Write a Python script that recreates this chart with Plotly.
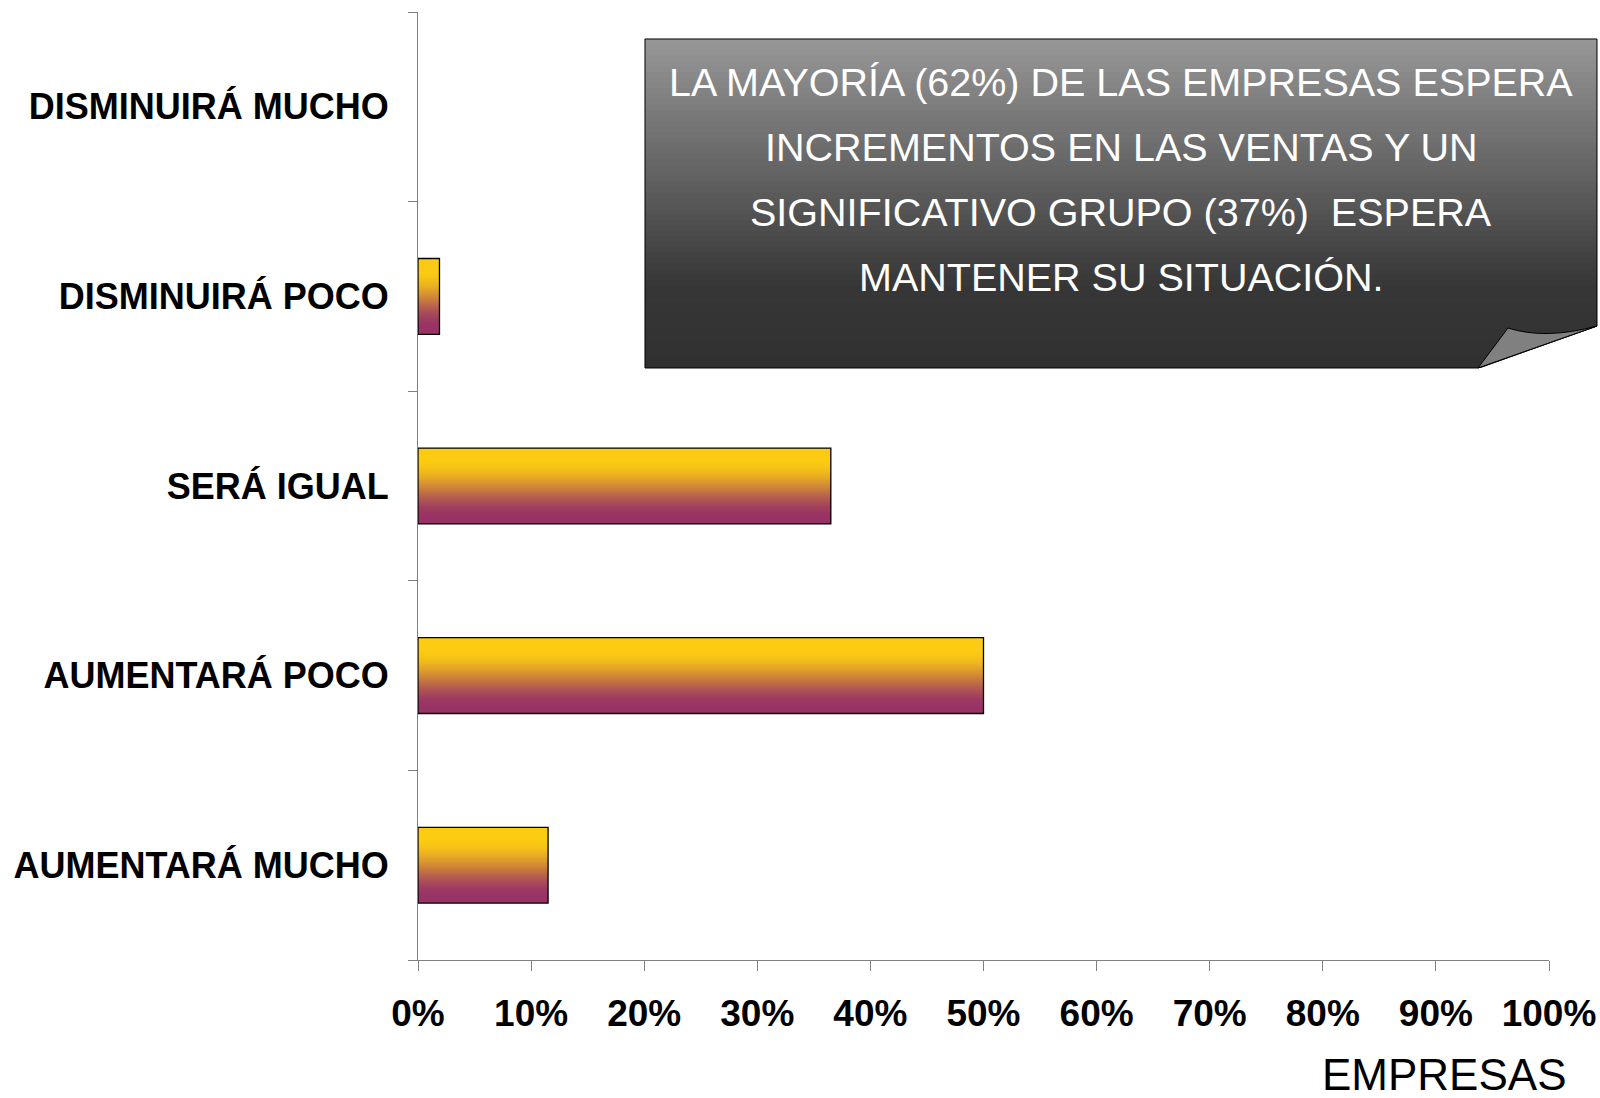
import plotly.graph_objects as go

# ---------------- data ----------------
categories = ["AUMENTARÁ MUCHO", "AUMENTARÁ POCO", "SERÁ IGUAL", "DISMINUIRÁ POCO", "DISMINUIRÁ MUCHO"]
values = [11.5, 50.0, 36.5, 1.9, 0.0]
x_tick_values = [0, 10, 20, 30, 40, 50, 60, 70, 80, 90, 100]
x_tick_labels = ["0%", "10%", "20%", "30%", "40%", "50%", "60%", "70%", "80%", "90%", "100%"]
x_title = "EMPRESAS"
note_lines = [
    "LA MAYORÍA (62%) DE LAS EMPRESAS ESPERA",
    "INCREMENTOS EN LAS VENTAS Y UN",
    "SIGNIFICATIVO GRUPO (37%)\u00a0\u00a0ESPERA",
    "MANTENER SU SITUACIÓN.",
]

# ---------------- layout geometry (pixels of the target picture) ----------------
W, H = 1600, 1098
L, R, T, B = 418, 1549, 12, 960
FONT = "Liberation Sans, Arial, sans-serif"


def px(x):
    return (x - L) / (R - L)


def py(y):
    return (B - y) / (B - T)


def lerp(a, b, t):
    return tuple(a[i] + (b[i] - a[i]) * t for i in range(3))


YELLOW = (252, 203, 18)
PURPLE = (153, 51, 102)


def bar_color(t_top):
    # t_top: 0 at top of bar, 1 at bottom
    if t_top <= 0.15:
        c = YELLOW
    elif t_top >= 0.92:
        c = PURPLE
    else:
        s = (t_top - 0.15) / (0.92 - 0.15)
        s = s * s * (3 - 2 * s)
        c = lerp(YELLOW, PURPLE, s)
    return "rgb(%d,%d,%d)" % tuple(round(v) for v in c)


fig = go.Figure()

BAR_W = 0.4
N = 40
strip = BAR_W / N
for i in range(N):
    off = -BAR_W / 2 + i * strip
    w = min(strip * 1.6, BAR_W / 2 - off)
    t_top = 1 - (i + 0.5) / N
    fig.add_trace(go.Bar(
        y=categories, x=values, orientation="h",
        offset=off, width=w,
        marker=dict(color=bar_color(t_top), line=dict(width=0)),
        hoverinfo="skip", showlegend=False,
    ))

fig.add_trace(go.Bar(
    y=categories, x=values, orientation="h",
    width=BAR_W,
    marker=dict(color="rgba(0,0,0,0)",
                line=dict(color="black", width=[1.3 if v > 0 else 0 for v in values])),
    hovertemplate="%{y}: %{x}%<extra></extra>", showlegend=False,
))

# ---------------- note box (decoration) ----------------
bx0, bx1, by0, by1 = 645, 1597, 39, 368
shapes = []
NS = 60
for k in range(NS):
    ya = by0 + (by1 - by0) * k / NS
    yb = by0 + (by1 - by0) * (k + 1) / NS + 1
    yb = min(yb, by1)
    t = (k + 0.5) / NS
    if t < 0.75:
        g = 152 - (152 - 55) * (t / 0.75)
    else:
        g = 55 - 6 * (t - 0.75) / 0.25
    col = "rgb(%d,%d,%d)" % (g, g, g)
    shapes.append(dict(type="rect", xref="paper", yref="paper",
                       x0=px(bx0), x1=px(bx1), y0=py(yb), y1=py(ya),
                       fillcolor=col, line=dict(width=0), layer="above"))


def P(x, y):
    return "%f,%f" % (px(x), py(y))


# white cut corner
shapes.append(dict(type="path", xref="paper", yref="paper",
                   path="M%s L%s L%s Z" % (P(1478, by1 + 1), P(bx1 + 1.5, by1 + 1), P(bx1 + 1.5, 326)),
                   fillcolor="white", line=dict(width=0), layer="above"))
# border
shapes.append(dict(type="path", xref="paper", yref="paper",
                   path="M%s L%s L%s L%s L%s Z" % (P(bx0, by0), P(bx1, by0), P(bx1, 326), P(1478, by1), P(bx0, by1)),
                   fillcolor="rgba(0,0,0,0)", line=dict(color="black", width=1), layer="above"))
# page curl
shapes.append(dict(type="path", xref="paper", yref="paper",
                   path="M%s L%s Q%s %s L%s Z" % (P(1478, by1), P(1508, 328), P(1545, 340), P(bx1, 326), P(1478, by1)),
                   fillcolor="#808080", line=dict(color="black", width=1), layer="above"))

annotations = []
line_ys = [82, 147, 212, 277]
for txt, yy in zip(note_lines, line_ys):
    annotations.append(dict(text=txt, xref="paper", yref="paper",
                            x=px((bx0 + bx1) / 2), y=py(yy), xanchor="center", yanchor="middle",
                            showarrow=False, font=dict(family=FONT, size=39.5, color="white")))

annotations.append(dict(text=x_title, xref="paper", yref="paper",
                        x=px(1569), y=py(1101), xanchor="right", yanchor="bottom",
                        showarrow=False, font=dict(family=FONT, size=44, color="black")))

fig.update_layout(
    width=W, height=H,
    margin=dict(l=L, r=W - R, t=T, b=H - B, pad=0, autoexpand=False),
    paper_bgcolor="white", plot_bgcolor="white",
    barmode="overlay",
    showlegend=False,
    shapes=shapes,
    annotations=annotations,
    font=dict(family=FONT, color="black"),
    xaxis=dict(
        range=[0, 100], tickmode="array", tickvals=x_tick_values, ticktext=x_tick_labels,
        ticks="outside", ticklen=10, tickwidth=1, tickcolor="#808080",
        showline=True, linecolor="#808080", linewidth=1,
        showgrid=False, zeroline=False, automargin=False,
        tickfont=dict(family=FONT, size=37, color="black", weight="bold"),
        ticklabelstandoff=11,
    ),
    yaxis=dict(
        type="category", categoryorder="array", categoryarray=categories,
        range=[-0.5, 4.5], tickson="boundaries",
        ticks="outside", ticklen=9, tickwidth=1, tickcolor="#808080",
        showline=True, linecolor="#808080", linewidth=1,
        showgrid=False, zeroline=False, automargin=False,
        tickfont=dict(family=FONT, size=36, color="black", weight="bold"),
        ticklabelstandoff=21,
    ),
)

fig.write_html(
    "out.html",
    config=dict(displayModeBar=False),
    post_script="document.body.style.margin='0';document.body.style.overflow='hidden';",
)
